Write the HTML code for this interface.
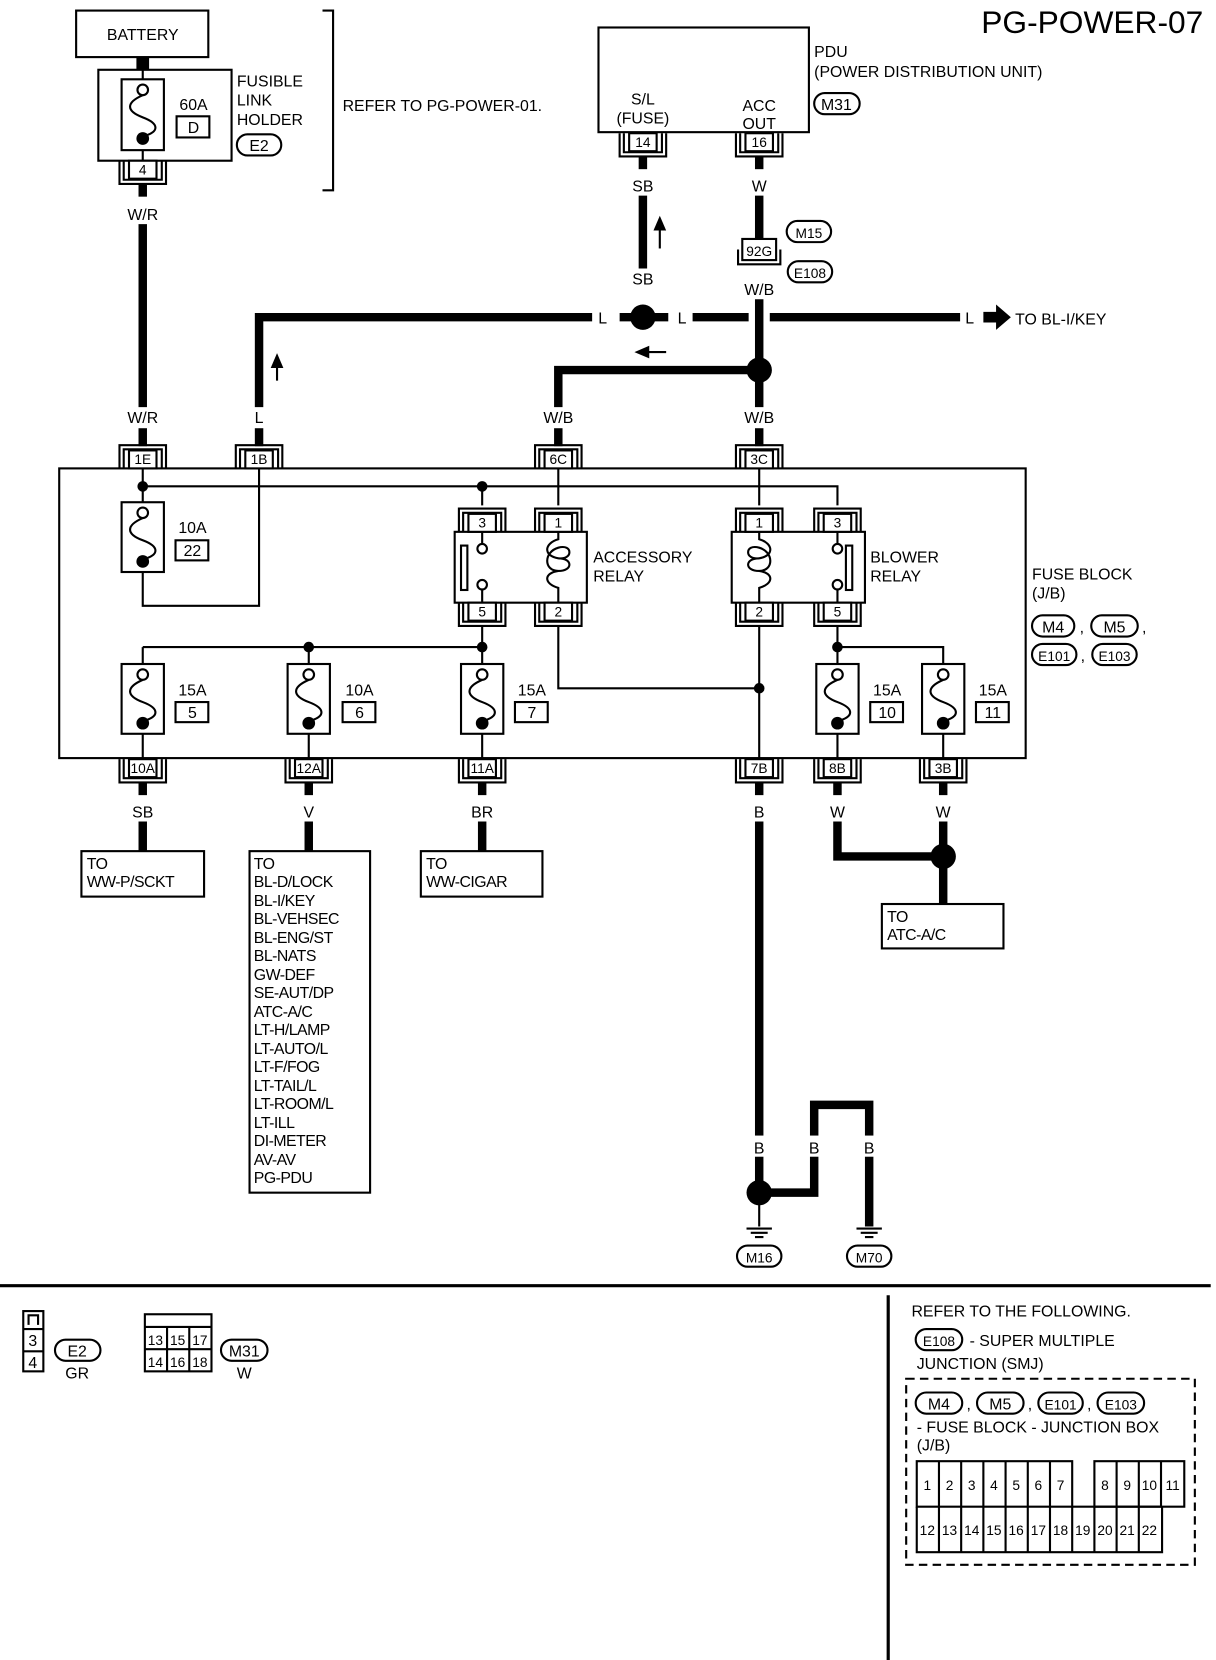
<!DOCTYPE html>
<html><head><meta charset="utf-8"><style>
html,body{margin:0;padding:0;background:#fff;}
svg{display:block;}
text{font-family:"Liberation Sans",sans-serif;font-size:15px;fill:#000;}
.c{text-anchor:middle;}
.s{font-size:13px;}
.n{font-size:13px;text-anchor:middle;}
</style></head><body>
<svg width="1216" height="1660" viewBox="0 0 1150 1570" preserveAspectRatio="none" xmlns="http://www.w3.org/2000/svg">
<defs>
<g id="fuse">
<rect x="-20" y="0" width="40" height="66" fill="#fff" stroke="#000" stroke-width="2"/>
<circle cx="0" cy="10" r="5" fill="#fff" stroke="#000" stroke-width="2"/>
<path d="M0,15 C-16,22 -16,30 0,36 C16,42 16,50 0,54" fill="none" stroke="#000" stroke-width="2"/>
<circle cx="0" cy="56" r="6" fill="#000"/>
</g>
<g id="ct">
<path d="M-22,22 V0 H22 V22 M-18,22 V4 H18 V22" fill="none" stroke="#000" stroke-width="2"/>
<rect x="-13" y="5" width="26" height="17" fill="#fff" stroke="#000" stroke-width="2"/>
</g>
<g id="cb">
<path d="M-22,0 V22 H22 V0 M-18,0 V18 H18 V0" fill="none" stroke="#000" stroke-width="2"/>
<rect x="-13" y="0" width="26" height="17" fill="#fff" stroke="#000" stroke-width="2"/>
</g>
<g id="gnd"><path d="M-12,0 H12 M-8,4 H8 M-4,8 H4" stroke="#000" stroke-width="2"/></g>
</defs>

<text x="1138" y="31" style="font-size:30px;text-anchor:end">PG-POWER-07</text>

<!-- battery / fusible link -->
<rect x="72" y="10" width="125" height="44" fill="none" stroke="#000" stroke-width="2"/>
<text x="135" y="38" class="c">BATTERY</text>
<rect x="129" y="54" width="12" height="12" fill="#000"/>
<rect x="93" y="66" width="126" height="86" fill="none" stroke="#000" stroke-width="2"/>
<line x1="135" y1="66" x2="135" y2="152" stroke="#000" stroke-width="2"/>
<g transform="translate(135,75)"><rect x="-20" y="0" width="40" height="67" fill="#fff" stroke="#000" stroke-width="2"/><circle cx="0" cy="10" r="5" fill="#fff" stroke="#000" stroke-width="2"/><path d="M0,15 C-16,22 -16,30 0,36 C16,42 16,50 0,54" fill="none" stroke="#000" stroke-width="2"/><circle cx="0" cy="56" r="6" fill="#000"/></g>
<text x="183" y="104" class="c">60A</text>
<rect x="167" y="110" width="31" height="20" fill="none" stroke="#000" stroke-width="2"/>
<text x="183" y="126" class="c">D</text>
<text x="224" y="82">FUSIBLE</text><text x="224" y="100">LINK</text><text x="224" y="118">HOLDER</text>
<rect x="224" y="127" width="42" height="20" rx="10" fill="none" stroke="#000" stroke-width="2"/><text x="245" y="143" class="c">E2</text>
<use href="#cb" x="135" y="152"/><text x="135" y="165" class="n">4</text>
<path d="M305,10 H315 V180 H305" fill="none" stroke="#000" stroke-width="2"/>
<text x="324" y="105">REFER TO PG-POWER-01.</text>
<line x1="135" y1="174" x2="135" y2="186" stroke="#000" stroke-width="8"/>
<text x="135" y="208" class="c">W/R</text>
<line x1="135" y1="212" x2="135" y2="385" stroke="#000" stroke-width="8"/>
<text x="135" y="400" class="c">W/R</text>

<!-- PDU -->
<rect x="566" y="26" width="199" height="99" fill="none" stroke="#000" stroke-width="2"/>
<text x="608" y="99" class="c">S/L</text><text x="608" y="117" class="c">(FUSE)</text>
<text x="718" y="105" class="c">ACC</text><text x="718" y="122" class="c">OUT</text>
<text x="770" y="54">PDU</text><text x="770" y="73">(POWER DISTRIBUTION UNIT)</text>
<rect x="770" y="88" width="43" height="20" rx="10" fill="none" stroke="#000" stroke-width="2"/><text x="791" y="104" class="c">M31</text>
<use href="#cb" x="608" y="126"/><text x="608" y="139" class="n">14</text>
<use href="#cb" x="718" y="126"/><text x="718" y="139" class="n">16</text>
<line x1="608" y1="148" x2="608" y2="160" stroke="#000" stroke-width="8"/>
<line x1="718" y1="148" x2="718" y2="160" stroke="#000" stroke-width="8"/>
<text x="608" y="181" class="c">SB</text>
<line x1="608" y1="185" x2="608" y2="254" stroke="#000" stroke-width="8"/>
<path d="M624,235 V215" stroke="#000" stroke-width="2"/><path d="M618,218 L624,204 L630,218 Z" fill="#000"/>
<text x="608" y="269" class="c">SB</text>
<text x="718" y="181" class="c">W</text>
<line x1="718" y1="185" x2="718" y2="226" stroke="#000" stroke-width="8"/>
<rect x="702" y="226" width="32" height="20" fill="#fff" stroke="#000" stroke-width="2"/>
<path d="M698,236 V250 H738 V236" fill="none" stroke="#000" stroke-width="2"/>
<text x="718" y="242" class="c s">92G</text>
<rect x="744" y="209" width="42" height="20" rx="10" fill="none" stroke="#000" stroke-width="2"/><text x="765" y="225" class="c s">M15</text>
<rect x="745" y="247" width="42" height="20" rx="10" fill="none" stroke="#000" stroke-width="2"/><text x="766" y="263" class="c s">E108</text>
<text x="718" y="279" class="c">W/B</text>
<line x1="718" y1="283" x2="718" y2="385" stroke="#000" stroke-width="8"/>

<!-- L wire -->
<path d="M245,385 V300 H560" fill="none" stroke="#000" stroke-width="8"/>
<text x="570" y="306" class="c">L</text>
<circle cx="608" cy="300" r="12" fill="#000"/>
<line x1="586" y1="300" x2="632" y2="300" stroke="#000" stroke-width="8"/>
<text x="645" y="306" class="c">L</text>
<line x1="655" y1="300" x2="708" y2="300" stroke="#000" stroke-width="8"/>
<line x1="728" y1="300" x2="908" y2="300" stroke="#000" stroke-width="8"/>
<text x="917" y="306" class="c">L</text>
<path d="M930,295 H942 V288 L956,300 L942,312 V305 H930 Z" fill="#000"/>
<text x="960" y="307">TO BL-I/KEY</text>
<path d="M262,360 V345" stroke="#000" stroke-width="2"/><path d="M256,348 L262,334 L268,348 Z" fill="#000"/>
<text x="245" y="400" class="c">L</text>
<circle cx="718" cy="350" r="12" fill="#000"/>
<path d="M718,350 H528 V385" fill="none" stroke="#000" stroke-width="8"/>
<path d="M630,333 H612" stroke="#000" stroke-width="2"/><path d="M614,327 L600,333 L614,339 Z" fill="#000"/>
<text x="528" y="400" class="c">W/B</text>
<text x="718" y="400" class="c">W/B</text>
<line x1="135" y1="405" x2="135" y2="422" stroke="#000" stroke-width="8"/>
<line x1="245" y1="405" x2="245" y2="422" stroke="#000" stroke-width="8"/>
<line x1="528" y1="405" x2="528" y2="422" stroke="#000" stroke-width="8"/>
<line x1="718" y1="405" x2="718" y2="422" stroke="#000" stroke-width="8"/>

<!-- fuse block -->
<rect x="56" y="443" width="914" height="274" fill="none" stroke="#000" stroke-width="2"/>
<use href="#ct" x="135" y="421"/><text x="135" y="439" class="n">1E</text>
<use href="#ct" x="245" y="421"/><text x="245" y="439" class="n">1B</text>
<use href="#ct" x="528" y="421"/><text x="528" y="439" class="n">6C</text>
<use href="#ct" x="718" y="421"/><text x="718" y="439" class="n">3C</text>
<g stroke="#000" stroke-width="2" fill="none">
<path d="M135,443 V475"/>
<path d="M135,460 H792 V478"/>
<path d="M456,460 V478"/>
<path d="M528,443 V478"/>
<path d="M718,443 V478"/>
<path d="M135,535 V573 H245 V443"/>
<path d="M456,592 V628 M135,612 H456 M135,612 V628 M292,612 V628"/>
<path d="M528,592 V651 H718"/>
<path d="M718,592 V717"/>
<path d="M792,592 V628 M792,612 H892 V628"/>
<path d="M135,694 V717 M292,694 V717 M456,694 V717 M792,694 V717 M892,694 V717"/>
</g>
<circle cx="135" cy="460" r="5" fill="#000"/><circle cx="456" cy="460" r="5" fill="#000"/>
<circle cx="292" cy="612" r="5" fill="#000"/><circle cx="456" cy="612" r="5" fill="#000"/>
<circle cx="718" cy="651" r="5" fill="#000"/><circle cx="792" cy="612" r="5" fill="#000"/>
<use href="#fuse" x="135" y="475"/>
<text x="182" y="504" class="c">10A</text><rect x="166" y="511" width="31" height="19" fill="none" stroke="#000" stroke-width="2"/><text x="182" y="526" class="c">22</text>

<!-- relays -->
<g stroke="#000" stroke-width="2" fill="none">
<rect x="430" y="503" width="125" height="67" fill="#fff"/>
<rect x="692" y="503" width="126" height="67" fill="#fff"/>
<rect x="436" y="516" width="6" height="42"/>
<rect x="800" y="516" width="6" height="42"/>
<circle cx="456" cy="519" r="4.5"/><circle cx="456" cy="553" r="4.5"/>
<circle cx="792" cy="519" r="4.5"/><circle cx="792" cy="553" r="4.5"/>
<path d="M456,503 V514 M456,558 V570 M792,503 V514 M792,558 V570"/>
<path d="M528,503 V510 C514,514 514,526 528,528 C542,530 542,514 528,518 C514,522 514,540 528,540 C542,540 542,528 528,528 M528,540 C514,542 514,552 528,556 V570"/>
<path d="M718,503 V510 C732,514 732,526 718,528 C704,530 704,514 718,518 C732,522 732,540 718,540 C704,540 704,528 718,528 M718,540 C732,542 732,552 718,556 V570"/>
</g>
<use href="#ct" x="456" y="481"/><text x="456" y="499" class="n">3</text>
<use href="#ct" x="528" y="481"/><text x="528" y="499" class="n">1</text>
<use href="#cb" x="456" y="570"/><text x="456" y="583" class="n">5</text>
<use href="#cb" x="528" y="570"/><text x="528" y="583" class="n">2</text>
<use href="#ct" x="718" y="481"/><text x="718" y="499" class="n">1</text>
<use href="#ct" x="792" y="481"/><text x="792" y="499" class="n">3</text>
<use href="#cb" x="718" y="570"/><text x="718" y="583" class="n">2</text>
<use href="#cb" x="792" y="570"/><text x="792" y="583" class="n">5</text>
<text x="561" y="532">ACCESSORY</text><text x="561" y="550">RELAY</text>
<text x="823" y="532">BLOWER</text><text x="823" y="550">RELAY</text>
<text x="976" y="548">FUSE BLOCK</text><text x="976" y="566">(J/B)</text>
<rect x="976" y="582" width="40" height="20" rx="10" fill="none" stroke="#000" stroke-width="2"/><text x="996" y="598" class="c">M4</text>
<text x="1021" y="598">,</text>
<rect x="1032" y="582" width="44" height="20" rx="10" fill="none" stroke="#000" stroke-width="2"/><text x="1054" y="598" class="c">M5</text>
<text x="1080" y="598">,</text>
<rect x="976" y="609" width="42" height="20" rx="10" fill="none" stroke="#000" stroke-width="2"/><text x="997" y="625" class="c s">E101</text>
<text x="1022" y="625">,</text>
<rect x="1033" y="609" width="42" height="20" rx="10" fill="none" stroke="#000" stroke-width="2"/><text x="1054" y="625" class="c s">E103</text>

<!-- lower fuses -->
<use href="#fuse" x="135" y="628"/><text x="182" y="658" class="c">15A</text><rect x="166" y="664" width="31" height="19" fill="none" stroke="#000" stroke-width="2"/><text x="182" y="679" class="c">5</text>
<use href="#fuse" x="292" y="628"/><text x="340" y="658" class="c">10A</text><rect x="324" y="664" width="31" height="19" fill="none" stroke="#000" stroke-width="2"/><text x="340" y="679" class="c">6</text>
<use href="#fuse" x="456" y="628"/><text x="503" y="658" class="c">15A</text><rect x="487" y="664" width="31" height="19" fill="none" stroke="#000" stroke-width="2"/><text x="503" y="679" class="c">7</text>
<use href="#fuse" x="792" y="628"/><text x="839" y="658" class="c">15A</text><rect x="823" y="664" width="31" height="19" fill="none" stroke="#000" stroke-width="2"/><text x="839" y="679" class="c">10</text>
<use href="#fuse" x="892" y="628"/><text x="939" y="658" class="c">15A</text><rect x="923" y="664" width="31" height="19" fill="none" stroke="#000" stroke-width="2"/><text x="939" y="679" class="c">11</text>

<use href="#cb" x="135" y="718"/><text x="135" y="731" class="n">10A</text>
<use href="#cb" x="292" y="718"/><text x="292" y="731" class="n">12A</text>
<use href="#cb" x="456" y="718"/><text x="456" y="731" class="n">11A</text>
<use href="#cb" x="718" y="718"/><text x="718" y="731" class="n">7B</text>
<use href="#cb" x="792" y="718"/><text x="792" y="731" class="n">8B</text>
<use href="#cb" x="892" y="718"/><text x="892" y="731" class="n">3B</text>
<g stroke="#000" stroke-width="8" fill="none">
<path d="M135,741 V752 M292,741 V752 M456,741 V752 M718,741 V752 M792,741 V752 M892,741 V752"/>
<path d="M135,777 V805 M292,777 V805 M456,777 V805"/>
<path d="M718,777 V1128 H770 V1045 H822 V1160"/>
<path d="M792,777 V810 H892 M892,777 V855"/>
</g>
<text x="135" y="773" class="c">SB</text><text x="292" y="773" class="c">V</text><text x="456" y="773" class="c">BR</text>
<text x="718" y="773" class="c">B</text><text x="792" y="773" class="c">W</text><text x="892" y="773" class="c">W</text>
<circle cx="892" cy="810" r="12" fill="#000"/>

<g fill="none" stroke="#000" stroke-width="2">
<rect x="77" y="805" width="116" height="43"/>
<rect x="236" y="805" width="114" height="323"/>
<rect x="398" y="805" width="115" height="43"/>
<rect x="834" y="855" width="115" height="42"/>
</g>
<g style="font-size:14px;letter-spacing:-0.5px">
<text x="82" y="822">TO</text><text x="82" y="839">WW-P/SCKT</text>
<text x="403" y="822">TO</text><text x="403" y="839">WW-CIGAR</text>
<text x="839" y="872">TO</text><text x="839" y="889">ATC-A/C</text>
<text x="240" y="822">TO</text><text x="240" y="839">BL-D/LOCK</text><text x="240" y="857">BL-I/KEY</text><text x="240" y="874">BL-VEHSEC</text><text x="240" y="892">BL-ENG/ST</text><text x="240" y="909">BL-NATS</text><text x="240" y="927">GW-DEF</text><text x="240" y="944">SE-AUT/DP</text><text x="240" y="962">ATC-A/C</text><text x="240" y="979">LT-H/LAMP</text><text x="240" y="997">LT-AUTO/L</text><text x="240" y="1014">LT-F/FOG</text><text x="240" y="1032">LT-TAIL/L</text><text x="240" y="1049">LT-ROOM/L</text><text x="240" y="1067">LT-ILL</text><text x="240" y="1084">DI-METER</text><text x="240" y="1102">AV-AV</text><text x="240" y="1119">PG-PDU</text>
</g>

<!-- grounds -->
<g fill="#fff"><rect x="710" y="1074" width="16" height="20"/><rect x="762" y="1074" width="16" height="20"/><rect x="814" y="1074" width="16" height="20"/></g>
<text x="718" y="1091" class="c">B</text><text x="770" y="1091" class="c">B</text><text x="822" y="1091" class="c">B</text>
<circle cx="718" cy="1128" r="12" fill="#000"/>
<line x1="718" y1="1128" x2="718" y2="1160" stroke="#000" stroke-width="2"/>
<use href="#gnd" x="718" y="1162"/><use href="#gnd" x="822" y="1162"/>
<rect x="697" y="1178" width="42" height="20" rx="10" fill="none" stroke="#000" stroke-width="2"/><text x="718" y="1194" class="c s">M16</text>
<rect x="801" y="1178" width="42" height="20" rx="10" fill="none" stroke="#000" stroke-width="2"/><text x="822" y="1194" class="c s">M70</text>

<!-- bottom section -->
<line x1="0" y1="1216" x2="1145" y2="1216" stroke="#000" stroke-width="3"/>
<line x1="840" y1="1225" x2="840" y2="1570" stroke="#000" stroke-width="3"/>
<g fill="none" stroke="#000" stroke-width="2">
<rect x="22" y="1240" width="19" height="57"/><line x1="22" y1="1257" x2="41" y2="1257"/><line x1="22" y1="1278" x2="41" y2="1278"/>
<path d="M27,1253 V1244 H36 V1253"/>
<rect x="137" y="1243" width="63" height="54"/><line x1="137" y1="1255" x2="200" y2="1255"/><line x1="137" y1="1276" x2="200" y2="1276"/><line x1="158" y1="1255" x2="158" y2="1297"/><line x1="179" y1="1255" x2="179" y2="1297"/>
<rect x="52" y="1267" width="43" height="20" rx="10"/>
<rect x="209" y="1267" width="44" height="20" rx="10"/>
</g>
<text x="31" y="1273" class="c">3</text><text x="31" y="1294" class="c">4</text>
<text x="147" y="1272" class="c s">13</text><text x="168" y="1272" class="c s">15</text><text x="189" y="1272" class="c s">17</text>
<text x="147" y="1293" class="c s">14</text><text x="168" y="1293" class="c s">16</text><text x="189" y="1293" class="c s">18</text>
<text x="73" y="1283" class="c">E2</text><text x="73" y="1304" class="c">GR</text>
<text x="231" y="1283" class="c">M31</text><text x="231" y="1304" class="c">W</text>

<text x="862" y="1245">REFER TO THE FOLLOWING.</text>
<rect x="866" y="1257" width="44" height="20" rx="10" fill="none" stroke="#000" stroke-width="2"/><text x="888" y="1273" class="c s">E108</text>
<text x="917" y="1273">- SUPER MULTIPLE</text>
<text x="867" y="1295">JUNCTION (SMJ)</text>
<rect x="857" y="1304" width="273" height="176" fill="none" stroke="#000" stroke-width="2" stroke-dasharray="8,5"/>
<rect x="866" y="1317" width="44" height="20" rx="10" fill="none" stroke="#000" stroke-width="2"/><text x="888" y="1333" class="c">M4</text>
<text x="914" y="1333">,</text>
<rect x="924" y="1317" width="44" height="20" rx="10" fill="none" stroke="#000" stroke-width="2"/><text x="946" y="1333" class="c">M5</text>
<text x="972" y="1333">,</text>
<rect x="982" y="1317" width="42" height="20" rx="10" fill="none" stroke="#000" stroke-width="2"/><text x="1003" y="1333" class="c s">E101</text>
<text x="1028" y="1333">,</text>
<rect x="1038" y="1317" width="44" height="20" rx="10" fill="none" stroke="#000" stroke-width="2"/><text x="1060" y="1333" class="c s">E103</text>
<text x="867" y="1355">- FUSE BLOCK - JUNCTION BOX</text>
<text x="867" y="1372">(J/B)</text>
<g fill="none" stroke="#000" stroke-width="2">
<path d="M867,1382 H1014 V1425 H867 Z M888,1382 V1425 M909,1382 V1425 M930,1382 V1425 M951,1382 V1425 M972,1382 V1425 M993,1382 V1425"/>
<path d="M1035,1382 H1120 V1425 H1035 Z M1056,1382 V1425 M1077,1382 V1425 M1098,1382 V1425"/>
<path d="M867,1425 V1468 H1099 V1425 M888,1425 V1468 M909,1425 V1468 M930,1425 V1468 M951,1425 V1468 M972,1425 V1468 M993,1425 V1468 M1014,1425 V1468 M1035,1425 V1468 M1056,1425 V1468 M1077,1425 V1468 M1014,1425 H1099"/>
</g>
<text x="877" y="1409" class="c s">1</text><text x="898" y="1409" class="c s">2</text><text x="919" y="1409" class="c s">3</text><text x="940" y="1409" class="c s">4</text><text x="961" y="1409" class="c s">5</text><text x="982" y="1409" class="c s">6</text><text x="1003" y="1409" class="c s">7</text>
<text x="1045" y="1409" class="c s">8</text><text x="1066" y="1409" class="c s">9</text><text x="1087" y="1409" class="c s">10</text><text x="1109" y="1409" class="c s">11</text>
<text x="877" y="1452" class="c s">12</text><text x="898" y="1452" class="c s">13</text><text x="919" y="1452" class="c s">14</text><text x="940" y="1452" class="c s">15</text><text x="961" y="1452" class="c s">16</text><text x="982" y="1452" class="c s">17</text><text x="1003" y="1452" class="c s">18</text><text x="1024" y="1452" class="c s">19</text><text x="1045" y="1452" class="c s">20</text><text x="1066" y="1452" class="c s">21</text><text x="1087" y="1452" class="c s">22</text>
</g>
</svg>
</body></html>
